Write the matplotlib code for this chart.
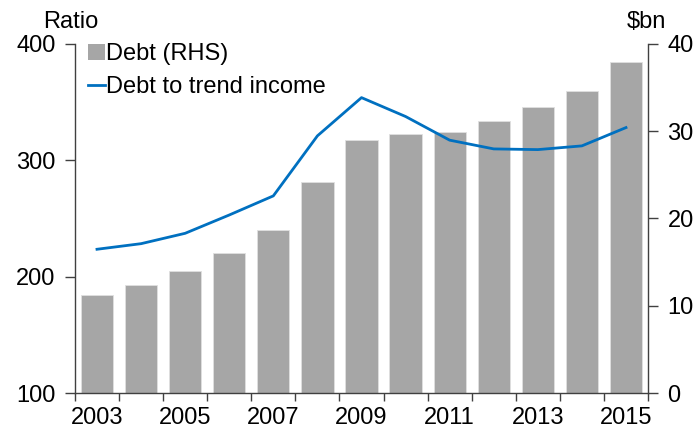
import matplotlib
matplotlib.use("Agg")
import matplotlib.pyplot as plt
from matplotlib.patches import Patch
from matplotlib.lines import Line2D

plt.rcParams['font.family'] = ['Liberation Sans', 'DejaVu Sans']

years = [2003, 2004, 2005, 2006, 2007, 2008, 2009, 2010, 2011, 2012, 2013, 2014, 2015]
debt_bn = [11.25, 12.4, 13.95, 16.1, 18.7, 24.2, 28.95, 29.7, 29.9, 31.1, 32.7, 34.6, 37.9]
debt_to_trend_income = [223.6, 228.4, 237.3, 253.0, 269.4, 320.9, 353.7, 337.5, 317.2, 309.7, 309.1, 312.3, 328.0]
tick_years = [2003, 2005, 2007, 2009, 2011, 2013, 2015]

FS = 17
axis_col = '#404040'

fig = plt.figure(figsize=(6.98, 4.28), dpi=100)
ax = fig.add_axes([0.1074, 0.081, 0.8210, 0.817])
ax2 = ax.twinx()

x = list(range(len(years)))
ax2.bar(x, debt_bn, width=0.73, color='#A6A6A6', edgecolor='#E0E0E0', linewidth=0.6, zorder=2)
ax.plot(x, debt_to_trend_income, color='#0070C0', linewidth=2.0, zorder=3)

ax.set_zorder(ax2.get_zorder() + 1)
ax.patch.set_visible(False)

ax.set_xlim(-0.5, len(years) - 0.5)
ax.set_ylim(100, 400)
ax2.set_ylim(0, 40)
ax.set_yticks([100, 200, 300, 400])
ax2.set_yticks([0, 10, 20, 30, 40])

# x ticks between bars, labels at bar centres
ax.set_xticks([i - 0.5 for i in range(len(years) + 1)])
ax.set_xticklabels([])
ax.set_xticks([years.index(y) for y in tick_years], minor=True)
ax.set_xticklabels([str(y) for y in tick_years], minor=True)
ax.tick_params(axis='x', which='major', direction='out', length=6, width=1, color=axis_col)
ax.tick_params(axis='x', which='minor', length=0, pad=10, labelsize=FS)

ax.tick_params(axis='y', direction='out', length=7, width=1, color=axis_col, labelsize=FS, pad=7)
ax2.tick_params(axis='y', direction='out', length=7, width=1, color=axis_col, labelsize=FS, pad=7)

for a in (ax, ax2):
    a.spines['top'].set_visible(False)
    for s in ('left', 'right', 'bottom'):
        a.spines[s].set_color(axis_col)
        a.spines[s].set_linewidth(1)
ax.spines['right'].set_visible(False)
ax2.spines['left'].set_visible(False)
ax2.spines['bottom'].set_visible(False)

fig.text(43 / 698, 1 - 22 / 428, 'Ratio', fontsize=FS, ha='left', va='center')
fig.text(627 / 698, 1 - 22 / 428, '$bn', fontsize=FS, ha='left', va='center')

handles = [Patch(facecolor='#A6A6A6', edgecolor='none'),
           Line2D([0], [0], color='#0070C0', linewidth=2.0)]
labels = ['Debt (RHS)', 'Debt to trend income']
ax.legend(handles, labels, loc='upper left', bbox_to_anchor=(88 / 698, 1 - 43 / 428),
          bbox_transform=fig.transFigure, frameon=False, fontsize=FS,
          handlelength=0.72, handleheight=0.64, handletextpad=0.05,
          labelspacing=0.48, borderaxespad=0, borderpad=0)

fig.savefig('out.png', dpi=100)
